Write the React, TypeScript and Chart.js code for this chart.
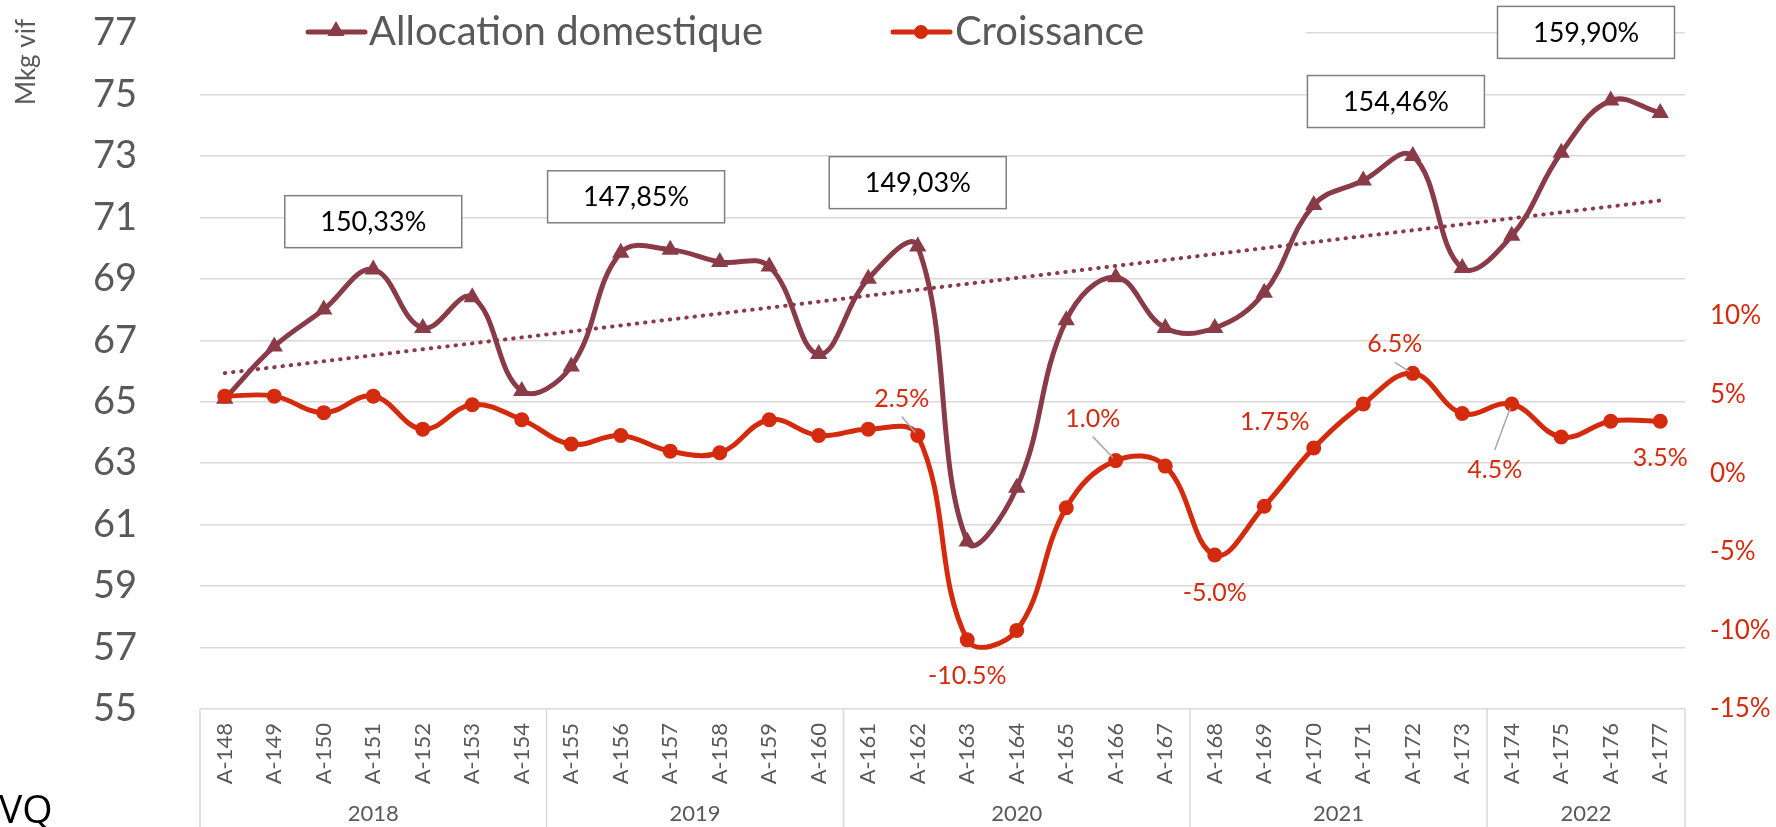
import React, { useEffect, useRef } from "react";
import { Chart, registerables } from "chart.js";

Chart.register(...registerables);

// ---------- DATA ----------
const categories = [
  "A-148", "A-149", "A-150", "A-151", "A-152", "A-153", "A-154",
  "A-155", "A-156", "A-157", "A-158", "A-159", "A-160",
  "A-161", "A-162", "A-163", "A-164", "A-165", "A-166", "A-167",
  "A-168", "A-169", "A-170", "A-171", "A-172", "A-173",
  "A-174", "A-175", "A-176", "A-177",
];
const years = ["2018", "2019", "2020", "2021", "2022"];
const yearSpans = [7, 6, 7, 6, 4];

const allocation = [
  65.1, 66.8, 68.0, 69.3, 67.4, 68.4, 65.35,
  66.15, 69.85, 69.95, 69.55, 69.4, 66.55,
  69.0, 70.05, 60.45, 62.2, 67.65, 69.05, 67.4,
  67.4, 68.55, 71.4, 72.2, 73.0, 69.35,
  70.4, 73.1, 74.8, 74.4,
];
const croissance = [
  4.9, 4.9, 3.85, 4.9, 2.8, 4.35, 3.4,
  1.85, 2.4, 1.4, 1.3, 3.4, 2.4,
  2.8, 2.4, -10.6, -10.0, -2.2, 0.8, 0.45,
  -5.2, -2.1, 1.6, 4.4, 6.35, 3.8,
  4.4, 2.3, 3.3, 3.3,
];

const leftMin = 55;
const leftMax = 77;
const leftStep = 2;
const rightMin = -15;
const rightMax = 28;
const rightStep = 5;
const rightLabelMax = 10;

const croissanceLabelIdx = [14, 15, 18, 20, 22, 24, 26, 29];
const croissanceLabelText = ["2.5%", "-10.5%", "1.0%", "-5.0%", "1.75%", "6.5%", "4.5%", "3.5%"];

const boxTexts = ["150,33%", "147,85%", "149,03%", "154,46%", "159,90%"];
const boxAnchorCat = [3.0, 8.31, 14.0, 23.66, 27.5];
const boxAnchorVal = [70.86, 71.67, 72.13, 74.77, 77.02];

// ---------- STYLE ----------
const MAROON = "#8A3B48";
const RED = "#D42B0F";
const GRAY_TEXT = "#595959";
const GRID = "#D9D9D9";
const FONT = "Lato, 'Open Sans', sans-serif";

const labelOffsets: [number, number][] = [
  [-16, -37], [0, 36], [-23, -42], [0, 38], [-39, -26], [-18, -29], [-17, 66], [0, 37],
];
const labelLeader = [true, false, true, false, false, true, true, false];

function linearTrend(values: number[]): number[] {
  const n = values.length;
  const mx = (n - 1) / 2;
  const my = values.reduce((a, b) => a + b, 0) / n;
  let num = 0;
  let den = 0;
  values.forEach((v, i) => {
    num += (i - mx) * (v - my);
    den += (i - mx) * (i - mx);
  });
  const slope = num / den;
  return values.map((_, i) => my + slope * (i - mx));
}

function drawTriangle(ctx: CanvasRenderingContext2D, x: number, y: number, r: number) {
  const T = (2 * Math.PI) / 3;
  let rad = 0;
  ctx.beginPath();
  ctx.moveTo(x + Math.sin(rad) * r, y - Math.cos(rad) * r);
  rad += T;
  ctx.lineTo(x + Math.sin(rad) * r, y - Math.cos(rad) * r);
  rad += T;
  ctx.lineTo(x + Math.sin(rad) * r, y - Math.cos(rad) * r);
  ctx.closePath();
  ctx.fill();
}

const overlayPlugin = {
  id: "overlay",
  afterDatasetsDraw(chart: any) {
    const ctx: CanvasRenderingContext2D = chart.ctx;
    const meta = chart.getDatasetMeta(0);
    ctx.save();
    ctx.font = `25px ${FONT}`;
    ctx.textAlign = "center";
    ctx.textBaseline = "middle";
    croissanceLabelIdx.forEach((idx, k) => {
      const pt = meta.data[idx];
      if (!pt) return;
      const px = pt.x;
      const py = pt.y;
      const cx = px + labelOffsets[k][0];
      const cy = py + labelOffsets[k][1];
      if (labelLeader[k]) {
        const sy = cy < py ? cy + 18 : cy - 20;
        const sx = cx;
        const dx = px - sx;
        const dy = py - sy;
        const len = Math.sqrt(dx * dx + dy * dy);
        const ex = px - (dx / len) * 4;
        const ey = py - (dy / len) * 4;
        ctx.strokeStyle = "#A6A6A6";
        ctx.lineWidth = 1.5;
        ctx.beginPath();
        ctx.moveTo(sx, sy);
        ctx.lineTo(ex, ey);
        ctx.stroke();
      }
      ctx.fillStyle = RED;
      ctx.fillText(croissanceLabelText[k], cx, cy);
    });
    ctx.restore();
  },
  afterDraw(chart: any) {
    const ctx: CanvasRenderingContext2D = chart.ctx;
    const xs = chart.scales.x;
    const ys = chart.scales.y;
    const area = chart.chartArea;
    ctx.save();

    // multi-level category table
    ctx.strokeStyle = GRID;
    ctx.lineWidth = 1.5;
    ctx.fillStyle = GRAY_TEXT;
    ctx.font = `22px ${FONT}`;
    ctx.textAlign = "center";
    ctx.textBaseline = "middle";
    let start = 0;
    const bottom = chart.height;
    years.forEach((yr, k) => {
      const x0 = xs.getPixelForValue(start - 0.5);
      const x1 = xs.getPixelForValue(start + yearSpans[k] - 0.5);
      ctx.beginPath();
      ctx.moveTo(x0, area.bottom);
      ctx.lineTo(x0, bottom);
      if (k === years.length - 1) {
        ctx.moveTo(x1, area.bottom);
        ctx.lineTo(x1, bottom);
      }
      ctx.stroke();
      ctx.fillText(yr, (x0 + x1) / 2, area.bottom + 105);
      start += yearSpans[k];
    });

    // legend (white background covering top gridline)
    ctx.fillStyle = "#ffffff";
    ctx.fillRect(area.left, 6, 1306 - area.left, 54);
    const ly = 32;
    ctx.lineCap = "round";
    ctx.lineWidth = 5;
    ctx.strokeStyle = MAROON;
    ctx.beginPath();
    ctx.moveTo(308, ly);
    ctx.lineTo(365, ly);
    ctx.stroke();
    ctx.fillStyle = MAROON;
    drawTriangle(ctx, 336, ly - 1, 10);
    ctx.strokeStyle = RED;
    ctx.beginPath();
    ctx.moveTo(893, ly);
    ctx.lineTo(950, ly);
    ctx.stroke();
    ctx.fillStyle = RED;
    ctx.beginPath();
    ctx.arc(921, ly, 7, 0, Math.PI * 2);
    ctx.fill();
    ctx.fillStyle = GRAY_TEXT;
    ctx.font = `40px ${FONT}`;
    ctx.textAlign = "left";
    ctx.textBaseline = "alphabetic";
    ctx.fillText("Allocation domestique", 369, 45);
    ctx.fillText("Croissance", 955, 45);

    // percentage boxes
    const bw = 177;
    const bh = 52;
    ctx.font = `27px ${FONT}`;
    ctx.textAlign = "center";
    ctx.textBaseline = "middle";
    boxTexts.forEach((t, k) => {
      const cx = xs.getPixelForValue(boxAnchorCat[k]);
      const cy = ys.getPixelForValue(boxAnchorVal[k]);
      ctx.fillStyle = "#ffffff";
      ctx.fillRect(cx - bw / 2, cy - bh / 2, bw, bh);
      ctx.strokeStyle = "#7F7F7F";
      ctx.lineWidth = 1.5;
      ctx.strokeRect(cx - bw / 2, cy - bh / 2, bw, bh);
      ctx.fillStyle = "#000000";
      ctx.fillText(t, cx, cy + 1);
    });

    // axis title
    ctx.save();
    ctx.translate(27, 62);
    ctx.rotate(-Math.PI / 2);
    ctx.fillStyle = GRAY_TEXT;
    ctx.font = `26px ${FONT}`;
    ctx.textAlign = "center";
    ctx.textBaseline = "middle";
    ctx.fillText("Mkg vif", 0, 0);
    ctx.restore();

    // corner text
    ctx.fillStyle = "#000000";
    ctx.font = "39px 'Open Sans', sans-serif";
    ctx.textAlign = "left";
    ctx.textBaseline = "alphabetic";
    ctx.fillText("VQ", -1, 823);

    ctx.restore();
  },
};

export default function App() {
  const canvasRef = useRef<HTMLCanvasElement | null>(null);

  useEffect(() => {
    const canvas = canvasRef.current;
    if (!canvas) return;
    const trend = linearTrend(allocation);
    const chart = new Chart(canvas, {
      type: "line",
      data: {
        labels: categories,
        datasets: [
          {
            label: "Croissance",
            data: croissance,
            yAxisID: "y1",
            borderColor: RED,
            backgroundColor: RED,
            borderWidth: 5,
            pointStyle: "circle",
            pointRadius: 7.5,
            pointHoverRadius: 7.5,
            pointBorderWidth: 0,
            tension: 0.4,
            order: 0,
          },
          {
            label: "Allocation domestique",
            data: allocation,
            yAxisID: "y",
            borderColor: MAROON,
            backgroundColor: MAROON,
            borderWidth: 5,
            pointStyle: "triangle",
            pointRadius: 10,
            pointHoverRadius: 10,
            pointBorderWidth: 0,
            tension: 0.4,
            order: 1,
          },
          {
            label: "Tendance",
            data: trend,
            yAxisID: "y",
            borderColor: MAROON,
            borderWidth: 4,
            borderDash: [0.5, 7.8],
            borderCapStyle: "round",
            pointRadius: 0,
            pointHoverRadius: 0,
            tension: 0,
            order: 2,
          },
        ],
      },
      options: {
        responsive: false,
        animation: false,
        layout: { padding: { top: 33, left: 0, right: 0, bottom: 0 } },
        plugins: {
          legend: { display: false },
          tooltip: { enabled: false },
        },
        scales: {
          x: {
            type: "category",
            offset: true,
            grid: { display: false, drawTicks: false },
            border: { display: false },
            ticks: {
              autoSkip: false,
              minRotation: 90,
              maxRotation: 90,
              padding: 14,
              color: GRAY_TEXT,
              font: { family: FONT, size: 22 },
            },
            afterFit: (s: any) => {
              s.height = 118;
            },
          },
          y: {
            position: "left",
            min: leftMin,
            max: leftMax,
            grid: { color: GRID, lineWidth: 1.5, drawTicks: false },
            border: { display: false },
            ticks: {
              stepSize: leftStep,
              padding: 63,
              color: GRAY_TEXT,
              font: { family: FONT, size: 38 },
            },
            afterFit: (s: any) => {
              s.width = 200;
              s.paddingTop = 20;
              s.paddingBottom = 20;
            },
          },
          y1: {
            position: "right",
            min: rightMin,
            max: rightMax,
            grid: { display: false, drawTicks: false },
            border: { display: false },
            ticks: {
              stepSize: rightStep,
              padding: 25,
              color: RED,
              font: { family: FONT, size: 26 },
              callback: (v: any) => (Number(v) <= rightLabelMax && Number(v) % rightStep === 0 ? `${v}%` : ""),
            },
            afterFit: (s: any) => {
              s.width = 91;
              s.paddingTop = 15;
              s.paddingBottom = 15;
            },
          },
        },
      },
      plugins: [overlayPlugin],
    });
    return () => {
      chart.destroy();
    };
  }, []);

  return (
    <div style={{ position: "relative", width: 1776, height: 827, overflow: "hidden" }}>
      <style>{`html,body{margin:0;padding:0;overflow:hidden;background:#fff}`}</style>
      <canvas ref={canvasRef} width={1776} height={827} style={{ display: "block", width: 1776, height: 827 }} />
    </div>
  );
}
